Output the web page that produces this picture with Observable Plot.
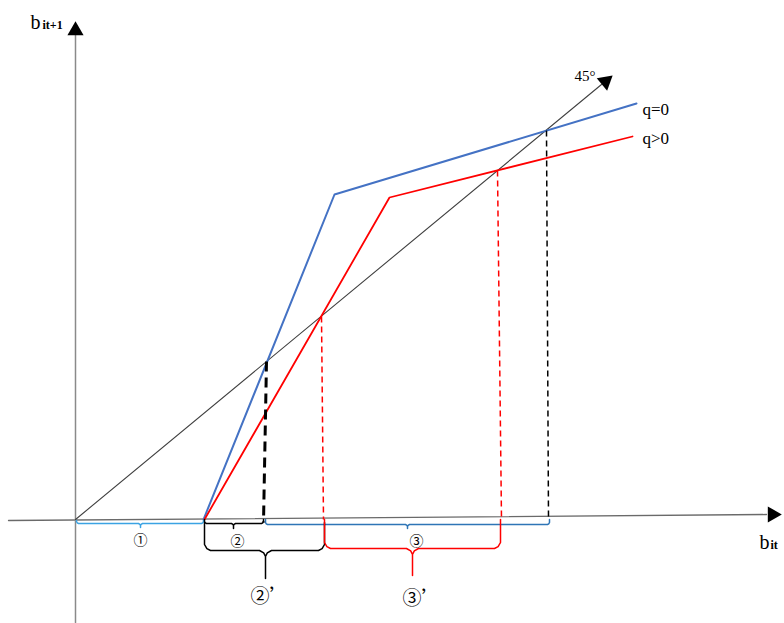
<!DOCTYPE html>
<html>
<head>
<meta charset="utf-8">
<script src="https://cdn.jsdelivr.net/npm/d3@7"></script>
<script src="https://cdn.jsdelivr.net/npm/@observablehq/plot@0.6"></script>
<style>
  html, body { margin: 0; padding: 0; background: #fff; }
  svg { display: block; }
</style>
</head>
<body>
<div id="chart"></div>
<script>
// Diagram units: b_it along x, b_it+1 along y (origin at the axes' crossing)
const xAxisPts = [[-67, -1], [691, 5]];
const yAxisPts = [[0, -103], [0, 484]];
const line45 = [[0, 0], [526, 435]];
const curveQ0 = [[128, 0], [259, 325], [561, 416]];   // q=0 (blue)
const curveQpos = [[129, 0], [314, 322], [557, 383]]; // q>0 (red)

// dashed drop lines from the intersections with the 45° line
const drops = [
  { x1: 191, y1: 158, x2: 188, y2: -3, color: "#000", w: 3, dash: "10,6" },
  { x1: 246, y1: 203, x2: 248, y2: 0, color: "#ff0000", w: 1.5, dash: "6,4" },
  { x1: 422, y1: 349, x2: 426, y2: 0, color: "#ff0000", w: 1.5, dash: "6,4" },
  { x1: 471, y1: 389, x2: 473, y2: 0, color: "#000", w: 1.5, dash: "6,4" }
];

// interval braces
const braces = [
  { x0: 1,   x1: 128, top: -1, bar: -4,  tipX: 65,  tipY: -8,  r: 2, color: "#3ba3e3", w: 1.5 },
  { x0: 129, x1: 188, top: 0,  bar: -4,  tipX: 158, tipY: -9,  r: 2, color: "#000",    w: 1.5 },
  { x0: 190, x1: 474, top: 0,  bar: -5,  tipX: 332, tipY: -9,  r: 2, color: "#2e75b6", w: 1.5 },
  { x0: 129, x1: 249, top: -3, bar: -31, tipX: 190, tipY: -59, r: 6, color: "#000",    w: 1.5 },
  { x0: 249, x1: 425, top: 0,  bar: -29, tipX: 337, tipY: -56, r: 6, color: "#ff0000", w: 1.5 }
];
const braceLabels = ["\u2460", "\u2461", "\u2462", "\u2461\u2019", "\u2462\u2019"];
const braceLabelX = [65, 162, 341, 194, 346];
const braceLabelY = [-21, -22, -22, -77, -79];
const braceLabelSize = [14, 14, 14, 19, 19];

const curveLabels = ["q=0", "q>0", "45\u00b0"];
const curveLabelX = [567, 567, 499];
const curveLabelY = [410, 381, 443];

function bracePath(b) {
  const { x0, x1, top, bar, tipX, tipY, r } = b;
  return [
    [x0, top], [x0, bar + r], [x0 + r * 0.4, bar + r * 0.3], [x0 + r, bar],
    [tipX - r, bar], [tipX - r * 0.3, bar - r * 0.4], [tipX, bar - r], [tipX, tipY],
    [tipX, bar - r], [tipX + r * 0.3, bar - r * 0.4], [tipX + r, bar],
    [x1 - r, bar], [x1 - r * 0.4, bar + r * 0.3], [x1, bar + r], [x1, top]
  ];
}

const serif = "'Liberation Serif', 'DejaVu Serif', serif";

const marks = [
  // axes
  Plot.line(xAxisPts, { x: d => d[0], y: d => d[1], stroke: "#6a6a6a", strokeWidth: 1.3 }),
  Plot.line(yAxisPts, { x: d => d[0], y: d => d[1], stroke: "#8a8a8a", strokeWidth: 1.5 }),
  Plot.dot([xAxisPts[1]], { x: d => d[0] + 6, y: d => d[1], symbol: "triangle", r: 6, fill: "#000", stroke: "none", rotate: 90 }),
  Plot.dot([yAxisPts[1]], { x: d => d[0], y: d => d[1] + 5, symbol: "triangle", r: 6, fill: "#000", stroke: "none" }),
  // 45° line
  Plot.line(line45, { x: d => d[0], y: d => d[1], stroke: "#404040", strokeWidth: 1.1 }),
  Plot.dot([line45[1]], { x: d => d[0] + 4, y: d => d[1] + 3, symbol: "triangle", r: 6, fill: "#000", stroke: "none", rotate: 50 }),
  // curves
  Plot.line(curveQ0, { x: d => d[0], y: d => d[1], stroke: "#4472c4", strokeWidth: 2 }),
  Plot.line(curveQpos, { x: d => d[0], y: d => d[1], stroke: "#ff0000", strokeWidth: 1.8 }),
  // drops
  ...drops.map(d => Plot.link([d], { x1: "x1", y1: "y1", x2: "x2", y2: "y2", stroke: d.color, strokeWidth: d.w, strokeDasharray: d.dash })),
  // braces
  ...braces.map(b => Plot.line(bracePath(b), { x: d => d[0], y: d => d[1], stroke: b.color, strokeWidth: b.w, strokeLinejoin: "round" })),
  // brace labels
  ...braceLabels.map((t, i) => Plot.text([t], { x: [braceLabelX[i]], y: [braceLabelY[i]], text: d => d, fontSize: braceLabelSize[i], fontFamily: "'Noto Sans CJK SC', 'DejaVu Sans', sans-serif", fill: "#000" })),
  // curve labels
  Plot.text(curveLabels, { x: (d, i) => curveLabelX[i], y: (d, i) => curveLabelY[i], text: d => d, textAnchor: "start", fontSize: (d, i) => (i < 2 ? 17 : 15), fontFamily: serif, fill: "#000" }),
  // axis titles
  Plot.text(["b"], { x: [-45], y: [497], text: d => d, textAnchor: "start", fontSize: 20, fontFamily: serif, fill: "#000" }),
  Plot.text(["it+1"], { x: [-33], y: [494], text: d => d, textAnchor: "start", fontSize: 12, fontWeight: "bold", fontFamily: serif, fill: "#000" }),
  Plot.text(["b"], { x: [684], y: [-23], text: d => d, textAnchor: "start", fontSize: 20, fontFamily: serif, fill: "#000" }),
  Plot.text(["it"], { x: [695], y: [-26], text: d => d, textAnchor: "start", fontSize: 12, fontWeight: "bold", fontFamily: serif, fill: "#000" })
];

const chart = Plot.plot({
  width: 784,
  height: 623,
  margin: 0,
  x: { domain: [-75, 709], range: [0, 784], axis: null },
  y: { domain: [-104, 519], range: [623, 0], axis: null },
  style: { background: "#fff" },
  marks
});
document.getElementById("chart").appendChild(chart);
</script>
</body>
</html>
